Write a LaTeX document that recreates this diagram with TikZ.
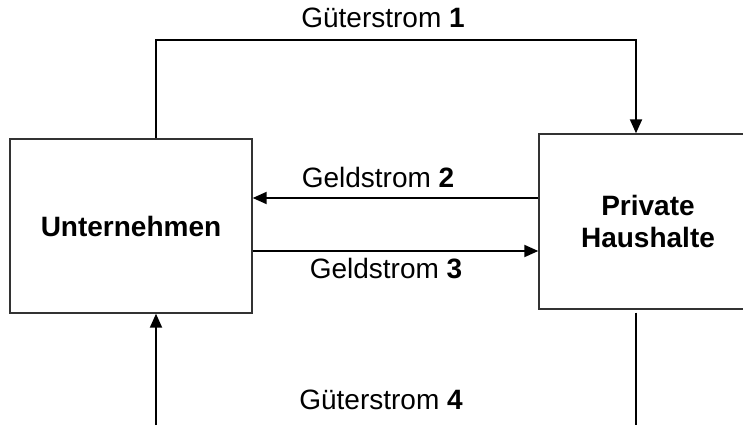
\documentclass[tikz,border=0pt]{standalone}
\usepackage{fontspec}
\setmainfont{Liberation Sans}
\usetikzlibrary{positioning,shapes,arrows.meta}

\begin{document}
\begin{tikzpicture}[%
        x=1pt,y=-1pt,
        -{Triangle[length=14pt,width=12pt]},
        line width=2pt,
        font=\fontsize{28}{32}\selectfont,
        sector/.style={%
          rectangle,
          draw=black!80,
          line width=1.4pt,
          fill=white,
          align=center,
          inner sep=0pt,
          font=\fontsize{28}{32}\selectfont\bfseries
        },
        flow/.style={%
          anchor=base,
          inner sep=0pt
        }
      ]
      \useasboundingbox (0,0) rectangle (743,425);
      \node[sector, minimum width=242pt, minimum height=174pt] (1) at (131,226) {Unternehmen};
      \node[sector, minimum width=218pt, minimum height=175pt] (2) at (648,221.5) {Private\\Haushalte};

      \coordinate (a) at (156,40);
      \coordinate (b) at (636,40);
      \coordinate (c) at (156,425);
      \coordinate (d) at (636,425);

      \node[flow] (g1) at (383,28) {Güterstrom \textbf{1}};
      \node[flow] (g2) at (378,187) {Geldstrom \textbf{2}};
      \node[flow] (g3) at (386,278) {Geldstrom \textbf{3}};
      \node[flow] (g4) at (381,409) {Güterstrom \textbf{4}};

      \draw (1.north -| a) -- (a) -- (b) -- (2.north -| b);
      \path (2.west |- 0,198) edge [] node {} (1.east |- 0,198)
      (1.east |- 0,251) edge [] node {} (2.west |- 0,251)
      (c) edge [] node {} (1.south -| c);
      \draw[-] ([yshift=-3pt]2.south -| d) -- (d);

    \end{tikzpicture}
\end{document}
